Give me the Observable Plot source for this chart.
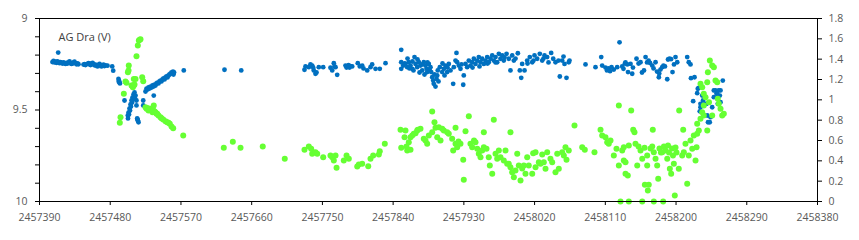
<!DOCTYPE html>
<html>
<head>
<meta charset="utf-8">
<script src="https://cdn.jsdelivr.net/npm/d3@7"></script>
<script src="https://cdn.jsdelivr.net/npm/@observablehq/plot@0.6"></script>
<style>
  html, body { margin: 0; padding: 0; background: #ffffff; }
  #chart { width: 859px; height: 240px; }
</style>
</head>
<body>
<div id="chart"></div>
<script>
// Title
const chartTitle = "AG Dra (V)";

// Axis ticks
const xTicks = [2457390, 2457480, 2457570, 2457660, 2457750, 2457840, 2457930, 2458020, 2458110, 2458200, 2458290, 2458380];
const leftTicks = [9, 9.1, 9.2, 9.3, 9.4, 9.5, 9.6, 9.7, 9.8, 9.9, 10];
const leftLabels = [9, 9.5, 10];
const rightTicks = [0, 0.2, 0.4, 0.6, 0.8, 1, 1.2, 1.4, 1.6, 1.8];

// V magnitude (left axis): [JD, mag]
const vMag = [
  [2457406.5,9.238],[2457407.8,9.232],[2457409.1,9.240],[2457410.4,9.236],[2457411.6,9.242],[2457412.9,9.234],
  [2457413.8,9.186],[2457414.2,9.240],[2457415.5,9.244],[2457416.7,9.238],[2457418.0,9.242],[2457419.3,9.246],
  [2457420.5,9.240],[2457421.8,9.244],[2457423.1,9.248],[2457424.4,9.242],[2457425.6,9.246],[2457426.9,9.240],
  [2457428.2,9.234],[2457429.4,9.244],[2457430.7,9.248],[2457432.0,9.246],[2457433.3,9.240],[2457434.5,9.236],
  [2457435.8,9.244],[2457437.1,9.250],[2457438.4,9.246],[2457439.6,9.250],
  [2457446.0,9.252],[2457447.3,9.250],[2457448.5,9.254],[2457451.1,9.248],[2457452.4,9.244],[2457453.6,9.250],
  [2457455.0,9.254],[2457456.2,9.246],[2457457.5,9.242],[2457458.7,9.250],[2457460.0,9.256],[2457461.3,9.252],
  [2457462.5,9.258],[2457463.8,9.262],[2457465.1,9.254],[2457466.4,9.248],[2457467.6,9.258],[2457468.9,9.262],
  [2457470.2,9.256],[2457471.4,9.252],[2457472.7,9.260],[2457474.0,9.256],[2457476.5,9.258],
  [2457482.5,9.262],[2457483.8,9.285],
  [2457490.5,9.330],[2457490.9,9.345],[2457491.2,9.340],[2457491.8,9.350],[2457492.4,9.355],[2457498.2,9.448],
  [2457502.4,9.530],[2457502.6,9.546],[2457503.3,9.514],[2457503.9,9.525],[2457504.5,9.492],[2457505.2,9.503],
  [2457505.8,9.470],[2457506.4,9.481],[2457507.1,9.448],[2457507.7,9.459],[2457508.3,9.432],[2457509.0,9.443],
  [2457509.6,9.415],[2457510.2,9.426],[2457510.9,9.404],[2457511.5,9.437],[2457512.2,9.421],[2457513.4,9.448],
  [2457513.4,9.475],[2457514.3,9.546],[2457514.8,9.552],[2457515.1,9.557],[2457516.0,9.567],
  [2457522.0,9.448],[2457522.0,9.475],
  [2457524.9,9.399],[2457526.2,9.383],[2457527.4,9.388],[2457528.7,9.377],[2457530.0,9.383],[2457531.2,9.372],
  [2457532.5,9.377],[2457533.8,9.366],[2457535.1,9.372],[2457535.4,9.421],[2457536.3,9.361],[2457537.6,9.366],
  [2457538.9,9.355],[2457540.2,9.350],[2457541.4,9.355],[2457542.7,9.344],[2457544.0,9.339],[2457545.2,9.344],
  [2457546.5,9.333],[2457547.8,9.328],[2457549.1,9.333],[2457550.3,9.322],[2457551.6,9.317],[2457552.9,9.322],
  [2457554.2,9.311],[2457555.4,9.306],[2457556.7,9.301],[2457558.0,9.295],[2457559.2,9.301],[2457559.9,9.290],
  [2457560.5,9.306],[2457561.2,9.295],
  [2457573.6,9.284],[2457625.4,9.280],[2457646.7,9.284],
  [2457727.2,9.280],[2457728.5,9.262],[2457732.7,9.266],[2457734.8,9.251],[2457737.0,9.257],[2457738.3,9.269],
  [2457739.0,9.284],[2457741.2,9.302],[2457742.5,9.295],[2457745.4,9.266],[2457751.0,9.266],[2457760.3,9.269],
  [2457762.5,9.284],[2457764.5,9.244],[2457765.4,9.262],[2457766.7,9.266],[2457768.8,9.308],[2457779.4,9.257],
  [2457780.7,9.268],[2457782.0,9.262],[2457783.2,9.255],[2457784.5,9.268],[2457785.7,9.260],[2457787.9,9.262],
  [2457795.0,9.244],[2457797.6,9.262],[2457800.6,9.257],[2457802.3,9.273],[2457807.0,9.284],[2457811.2,9.266],
  [2457813.3,9.251],[2457817.6,9.275],[2457823.0,9.275],[2457830.3,9.244],
  [2457850.3,9.171],[2457850.3,9.239],[2457850.3,9.275],[2457852.8,9.257],[2457854.5,9.246],[2457855.7,9.248],
  [2457857.9,9.266],[2457858.3,9.219],[2457859.9,9.239],[2457860.8,9.273],[2457862.1,9.257],[2457864.3,9.275],
  [2457864.6,9.235],[2457865.9,9.284],[2457867.2,9.211],[2457868.5,9.248],[2457870.6,9.266],[2457871.0,9.224],
  [2457872.7,9.239],[2457873.6,9.295],[2457874.8,9.257],[2457877.0,9.284],[2457877.4,9.251],[2457879.0,9.239],
  [2457879.9,9.306],[2457881.2,9.257],[2457882.5,9.275],[2457883.3,9.293],[2457883.7,9.240],[2457885.4,9.248],
  [2457886.3,9.279],[2457887.5,9.266],[2457888.4,9.293],[2457889.7,9.321],[2457891.0,9.339],[2457891.7,9.357],
  [2457892.6,9.306],[2457893.9,9.372],[2457895.2,9.330],[2457896.1,9.311],[2457896.8,9.284],[2457897.7,9.344],
  [2457899.4,9.266],[2457902.4,9.293],[2457902.8,9.246],[2457904.5,9.275],[2457905.4,9.311],[2457906.6,9.257],
  [2457908.8,9.293],[2457909.2,9.268],[2457910.8,9.248],[2457913.0,9.284],[2457916.4,9.357],[2457917.2,9.266],
  [2457919.4,9.230],[2457920.6,9.188],[2457921.5,9.239],[2457923.6,9.257],[2457925.7,9.275],[2457927.0,9.251],
  [2457929.2,9.362],[2457929.9,9.311],[2457932.1,9.248],[2457934.2,9.266],[2457936.3,9.230],[2457938.4,9.257],
  [2457940.6,9.239],[2457941.0,9.268],[2457942.7,9.220],[2457944.8,9.248],[2457947.0,9.230],[2457949.0,9.211],
  [2457949.9,9.262],[2457951.2,9.239],[2457953.3,9.220],[2457955.4,9.248],[2457957.5,9.230],[2457959.7,9.211],
  [2457960.1,9.246],[2457961.7,9.239],[2457963.9,9.220],[2457966.1,9.202],[2457968.1,9.230],[2457970.3,9.211],
  [2457970.3,9.240],[2457972.4,9.239],[2457974.5,9.193],[2457976.6,9.220],[2457978.8,9.202],[2457980.8,9.230],
  [2457981.7,9.213],[2457984.3,9.193],[2457987.2,9.220],[2457989.3,9.284],[2457991.5,9.202],[2457993.6,9.230],
  [2457995.7,9.219],[2457998.7,9.190],[2458001.2,9.284],[2458003.0,9.324],[2458004.2,9.248],[2458007.2,9.284],
  [2458010.6,9.230],[2458011.0,9.246],[2458013.9,9.211],[2458017.0,9.239],[2458018.6,9.230],[2458019.9,9.202],
  [2458023.3,9.220],[2458026.6,9.193],[2458029.7,9.230],[2458031.3,9.219],[2458032.6,9.202],[2458036.0,9.211],
  [2458037.7,9.240],[2458041.1,9.188],[2458043.7,9.220],[2458046.6,9.239],[2458050.4,9.230],[2458052.1,9.317],
  [2458055.1,9.230],[2458056.8,9.208],[2458058.1,9.248],[2458060.6,9.324],[2458063.5,9.239],[2458064.4,9.230],
  [2458084.8,9.251],[2458097.5,9.266],[2458104.8,9.211],[2458106.0,9.257],[2458110.2,9.268],[2458112.1,9.284],
  [2458114.1,9.273],[2458116.0,9.288],[2458117.9,9.266],[2458120.8,9.279],[2458125.1,9.266],[2458128.1,9.130],
  [2458131.5,9.262],[2458133.1,9.275],[2458135.0,9.246],[2458135.7,9.240],[2458137.9,9.251],[2458138.9,9.293],
  [2458142.1,9.248],[2458144.2,9.302],[2458145.2,9.268],[2458149.7,9.220],[2458152.3,9.246],[2458154.8,9.239],
  [2458156.7,9.295],[2458159.2,9.284],[2458161.2,9.211],[2458163.1,9.240],[2458165.0,9.230],[2458166.9,9.243],
  [2458169.7,9.257],[2458171.4,9.273],[2458173.9,9.239],[2458175.8,9.290],[2458178.1,9.321],[2458178.6,9.301],
  [2458180.2,9.279],[2458182.4,9.266],[2458184.0,9.257],[2458185.9,9.262],[2458188.8,9.332],[2458189.8,9.224],
  [2458191.7,9.219],[2458193.6,9.222],[2458195.5,9.293],[2458197.4,9.251],[2458199.3,9.211],[2458201.5,9.239],
  [2458214.2,9.211],[2458216.2,9.239],[2458218.4,9.251],[2458219.0,9.326],[2458223.5,9.321],[2458221.8,9.452],
  [2458226.9,9.408],[2458227.7,9.384],[2458229.0,9.379],[2458231.1,9.485],[2458230.2,9.507],[2458231.1,9.466],
  [2458233.3,9.421],[2458234.3,9.448],[2458237.5,9.466],[2458238.8,9.466],[2458239.7,9.530],[2458240.7,9.567],
  [2458242.9,9.567],[2458243.9,9.539],[2458246.0,9.485],[2458248.1,9.430],[2458248.1,9.393],[2458250.2,9.393],
  [2458251.5,9.411],[2458252.4,9.411],[2458253.1,9.466],[2458254.4,9.393],[2458255.7,9.421],[2458256.6,9.393],
  [2458256.6,9.457],[2458259.5,9.339]
];

// Colour index (right axis): [JD, value]
const colourIdx = [
  [2457492.2,0.774],[2457493.1,0.829],[2457497.3,1.059],[2457499.4,1.180],[2457500.7,1.167],[2457502.5,1.271],
  [2457503.3,1.288],[2457503.6,1.337],[2457507.1,1.141],[2457508.0,1.141],[2457508.8,1.124],[2457510.0,1.141],
  [2457510.0,1.206],[2457510.9,1.150],[2457512.2,1.206],[2457513.4,1.429],[2457515.1,1.534],[2457516.4,1.583],
  [2457517.6,1.590],[2457518.5,1.595],[2457520.7,1.222],[2457522.0,1.183],
  [2457524.9,0.927],[2457526.2,0.912],[2457527.4,0.920],[2457528.7,0.895],[2457530.0,0.905],[2457531.2,0.912],
  [2457532.5,0.895],[2457533.8,0.878],[2457535.1,0.895],[2457535.4,0.944],[2457536.3,0.885],[2457537.6,0.878],
  [2457538.9,0.862],[2457539.8,0.862],[2457541.4,0.846],[2457544.0,0.829],[2457545.2,0.820],[2457547.4,0.806],
  [2457550.3,0.790],[2457552.5,0.780],[2457554.2,0.775],[2457555.8,0.764],[2457558.0,0.737],[2457560.1,0.721],
  [2457572.9,0.649],[2457624.5,0.528],[2457636.0,0.587],[2457645.8,0.528],[2457674.1,0.541],[2457702.1,0.420],
  [2457727.2,0.508],[2457732.7,0.541],[2457735.7,0.518],[2457737.0,0.469],[2457739.0,0.482],[2457741.2,0.485],
  [2457743.4,0.469],[2457751.0,0.436],[2457760.3,0.452],[2457762.5,0.436],[2457764.5,0.403],[2457766.7,0.452],
  [2457768.0,0.331],[2457777.2,0.403],[2457780.7,0.452],[2457783.6,0.420],[2457794.3,0.344],[2457796.3,0.364],
  [2457800.6,0.371],[2457808.3,0.347],[2457811.2,0.420],[2457814.6,0.452],[2457821.8,0.462],[2457823.0,0.495],
  [2457829.4,0.567],
  [2457849.4,0.705],[2457850.3,0.528],[2457854.5,0.632],[2457855.7,0.698],[2457857.0,0.541],[2457857.9,0.501],
  [2457859.9,0.583],[2457862.1,0.632],[2457862.1,0.508],[2457864.3,0.649],[2457866.3,0.666],[2457868.5,0.672],
  [2457870.6,0.698],[2457871.4,0.705],[2457874.8,0.715],[2457879.0,0.617],[2457881.2,0.600],[2457883.3,0.567],
  [2457885.4,0.649],[2457889.7,0.885],[2457889.7,0.681],[2457892.6,0.780],[2457893.9,0.725],[2457896.1,0.632],
  [2457898.1,0.731],[2457900.3,0.600],[2457902.4,0.715],[2457904.5,0.698],[2457908.8,0.681],[2457910.8,0.666],
  [2457915.1,0.617],[2457916.4,0.501],[2457919.4,0.725],[2457919.4,0.567],[2457921.5,0.534],[2457923.2,0.590],
  [2457925.7,0.567],[2457929.2,0.410],[2457929.9,0.213],[2457932.1,0.691],[2457936.3,0.839],[2457938.4,0.567],
  [2457940.6,0.534],[2457942.9,0.600],[2457944.8,0.583],[2457947.0,0.518],[2457949.0,0.469],[2457951.2,0.436],
  [2457953.3,0.501],[2457955.4,0.681],[2457955.4,0.534],[2457958.8,0.518],[2457961.7,0.436],[2457963.0,0.354],
  [2457966.1,0.272],[2457968.1,0.803],[2457970.3,0.469],[2457972.4,0.420],[2457974.5,0.501],[2457976.6,0.436],
  [2457980.8,0.403],[2457983.0,0.501],[2457985.1,0.371],[2457987.2,0.371],[2457989.3,0.681],[2457989.3,0.337],
  [2457991.5,0.288],[2457993.6,0.239],[2457995.7,0.305],[2457997.9,0.469],[2457999.9,0.354],[2458002.1,0.206],
  [2458004.2,0.324],[2458006.3,0.354],[2458008.4,0.272],[2458010.6,0.436],[2458012.6,0.354],[2458017.0,0.272],
  [2458018.2,0.475],[2458021.2,0.485],[2458021.2,0.337],[2458025.4,0.386],[2458027.5,0.371],[2458029.7,0.462],
  [2458031.7,0.386],[2458033.9,0.322],[2458036.0,0.485],[2458040.2,0.420],[2458042.4,0.386],[2458046.6,0.288],
  [2458048.8,0.469],[2458050.8,0.322],[2458055.1,0.485],[2458057.2,0.452],[2458059.3,0.534],[2458060.6,0.410],
  [2458063.5,0.501],[2458070.8,0.747],
  [2458080.6,0.534],[2458083.9,0.508],[2458096.2,0.485],[2458103.9,0.705],[2458106.0,0.649],[2458110.2,0.632],
  [2458112.4,0.583],[2458114.4,0.567],[2458116.6,0.600],[2458120.8,0.452],[2458124.2,0.518],[2458127.2,0.944],
  [2458127.2,0.354],[2458129.3,0],[2458131.5,0.501],[2458133.5,0.534],[2458133.5,0.403],[2458135.7,0.386],
  [2458135.7,0.272],[2458138.6,0.256],[2458139.9,0.551],[2458139.9,0],[2458142.9,0.895],[2458145.5,0.705],
  [2458147.1,0.681],[2458148.4,0.567],[2458150.6,0.354],[2458152.3,0.541],[2458154.8,0.501],[2458157.0,0.420],
  [2458157.0,0],[2458159.9,0.528],[2458160.3,0.164],[2458163.3,0.452],[2458163.3,0.354],[2458164.1,0.108],
  [2458165.3,0.164],[2458167.5,0.521],[2458169.7,0.541],[2458170.4,0.705],[2458171.7,0.485],[2458171.7,0],
  [2458173.9,0.420],[2458176.0,0.354],[2458177.3,0.223],[2458178.9,0.521],[2458180.8,0.482],[2458182.4,0.485],
  [2458183.6,0],[2458184.6,0.541],[2458186.6,0.501],[2458188.8,0.420],[2458189.8,0.551],[2458191.0,0.482],
  [2458192.1,0.322],[2458193.8,0.272],[2458194.9,0.521],[2458196.1,0.452],[2458197.2,0.371],[2458198.4,0.059],
  [2458199.3,0.531],[2458200.6,0.482],[2458203.5,0.322],[2458204.0,0.895],[2458207.8,0.452],[2458209.1,0.705],
  [2458209.9,0.485],[2458212.0,0.567],[2458214.2,0.174],[2458216.2,0.452],[2458218.4,0.600],[2458220.6,0.518],
  [2458222.6,0.649],[2458224.8,0.403],[2458226.1,0.534],[2458226.9,0.666],[2458226.9,0.764],[2458229.0,0.698],
  [2458231.1,0.813],[2458233.3,0.878],[2458235.3,0.944],[2458231.1,1.157],[2458233.3,1.124],[2458235.3,1.059],
  [2458235.3,0.846],[2458237.5,1.026],[2458239.7,1.173],[2458239.7,0.698],[2458240.5,1.271],[2458241.9,0.976],
  [2458243.0,1.386],[2458246.0,1.337],[2458246.0,0.846],[2458248.1,1.321],[2458250.2,1.190],[2458252.4,1.173],
  [2458253.1,1.010],[2458254.4,0.961],[2458256.6,0.912],[2458258.7,0.846],[2458260.8,0.862]
];

// The right axis (0 … 1.8) shares the plot height with the left axis (9 … 10, reversed).
const rightMin = 0, rightMax = 1.8, leftMin = 9, leftMax = 10;
const toLeft = v => leftMax - (v - rightMin) / (rightMax - rightMin) * (leftMax - leftMin);
const fromLeft = m => rightMin + (leftMax - m) / (leftMax - leftMin) * (rightMax - rightMin);

const blueColor = "#0070C0";
const greenColor = "#66FF33";
const textColor = "#595959";

const chart = Plot.plot({
  width: 859,
  height: 240,
  marginLeft: 39,
  marginRight: 42,
  marginTop: 18,
  marginBottom: 39,
  style: { fontFamily: "'Open Sans', 'Liberation Sans', sans-serif", fontSize: "10.5px", background: "#ffffff", overflow: "visible" },
  x: { domain: [xTicks[0], xTicks[xTicks.length - 1]], label: null },
  y: { domain: [leftMin, leftMax], reverse: true, label: null },
  marks: [
    Plot.axisX(xTicks, { tickSize: 4, tickPadding: 8, tickFormat: d => String(d), stroke: "#000000", fill: textColor, label: null }),
    Plot.axisY(leftTicks, { anchor: "left", tickSize: 4, tickPadding: 8, tickFormat: d => leftLabels.includes(d) ? String(d) : "", stroke: "#000000", fill: textColor, label: null }),
    Plot.axisY(rightTicks.map(toLeft), { anchor: "right", tickSize: 4, tickPadding: 7, tickFormat: d => String(Math.round(fromLeft(d) * 10) / 10), stroke: "#000000", fill: textColor, label: null }),
    Plot.dot(vMag, { x: d => d[0], y: d => d[1], r: 2.4, fill: blueColor, stroke: "none" }),
    Plot.dot(colourIdx, { x: d => d[0], y: d => toLeft(d[1]), r: 3, fill: greenColor, stroke: "none" }),
    Plot.frame({ stroke: "#000000", strokeWidth: 1 }),
    Plot.text([chartTitle], { frameAnchor: "top-left", dx: 19, dy: 19, textAnchor: "start", lineAnchor: "middle", fill: "#404040", fontSize: 11 })
  ]
});
document.getElementById("chart").appendChild(chart);
</script>
</body>
</html>
